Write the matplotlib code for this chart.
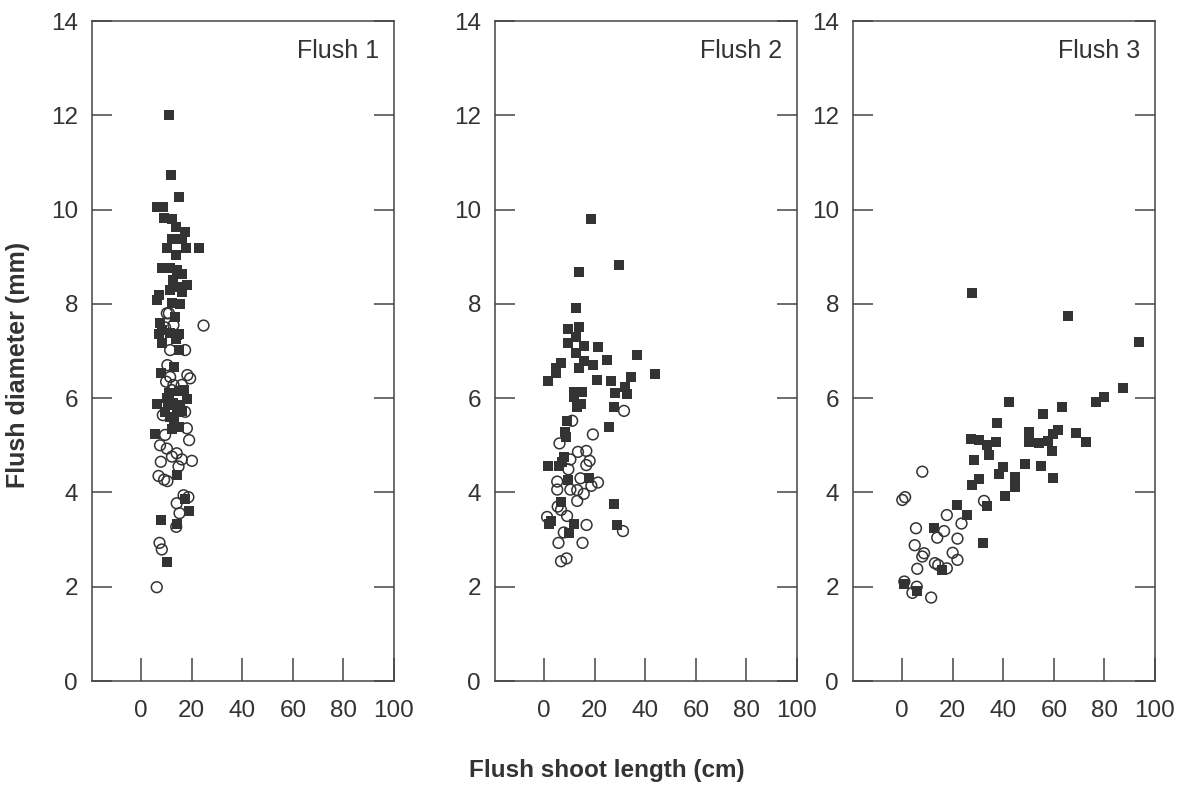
import matplotlib.pyplot as plt

plt.rcParams["font.family"] = ["Liberation Sans", "DejaVu Sans"]
plt.rcParams["font.size"] = 17.5
plt.rcParams["text.color"] = "#333333"
plt.rcParams["axes.edgecolor"] = "#444444"

# flush 1
f1_sq_x = [11.1, 11.9, 15, 6.2, 8.6, 9.1, 12.4, 13.9, 17.2, 12.2, 16.1, 10.4, 17.8, 23, 13.9,
           8.2, 11.5, 14.4, 16.1, 12.8, 18.1, 14.5, 11.5, 16.1, 6.9, 6.2, 12.2, 15.2, 7.5, 13.5,
           8.2, 11.5, 14.8, 6.9, 14.1, 8.2, 13.9, 14.8, 13.1, 7.8, 14.8, 16.8, 10.2, 6.2, 10.8,
           15.4, 18.3, 14.1, 11.5, 16.1, 12.2, 14.8, 5.5, 14.1, 17.4, 19, 7.8, 14.1, 10.2,
           11, 12.5, 9.5, 13]
f1_sq_y = [12.0, 10.73, 10.26, 10.05, 10.05, 9.83, 9.79, 9.64, 9.52, 9.37, 9.37, 9.19, 9.19, 9.19, 9.03,
           8.77, 8.77, 8.72, 8.63, 8.5, 8.4, 8.36, 8.29, 8.26, 8.19, 8.08, 8.02, 8.0, 7.6, 7.73,
           7.44, 7.38, 7.37, 7.37, 7.34, 7.18, 7.25, 7.02, 6.67, 6.53, 6.16, 6.17, 6.0, 5.87, 5.86,
           5.86, 5.98, 5.71, 5.6, 5.73, 5.34, 5.39, 5.25, 4.37, 3.87, 3.61, 3.41, 3.34, 2.53,
           6.1, 5.9, 5.7, 5.5]
f1_op_x = [10.2, 11, 24.7, 11.5, 17.4, 10.4, 11.5, 18.3, 19.4, 9.9, 12.8, 16.1, 12.2, 8.6, 17.4,
           18.1, 9.5, 19, 7.5, 10.2, 14.1, 12.2, 16.1, 20.1, 7.8, 14.8, 6.9, 9.1, 10.4, 16.8,
           18.7, 14.1, 15.2, 13.9, 7.3, 8.2, 6.2, 12.8, 9.5]
f1_op_y = [7.8, 7.8, 7.54, 7.02, 7.02, 6.7, 6.45, 6.49, 6.42, 6.35, 6.28, 6.28, 6.17, 5.64, 5.71,
           5.36, 5.22, 5.11, 5.0, 4.93, 4.83, 4.76, 4.7, 4.67, 4.65, 4.55, 4.35, 4.27, 4.24, 3.94,
           3.9, 3.77, 3.56, 3.27, 2.93, 2.79, 1.99, 7.55, 7.5]

# flush 2
f2_sq_x = [18.7, 29.6, 13.8, 12.8, 9.6, 13.8, 12.8, 9.6, 15.7, 21.5, 12.8, 36.7, 15.7, 24.7, 6.7,
           4.8, 4.8, 13.8, 19.2, 1.7, 20.8, 26.6, 34.2, 43.8, 31.9, 27.9, 32.9, 27.7, 25.8, 27.7,
           28.8, 12, 15, 12, 13.1, 14.7, 9.1, 8.3, 8.7, 7.8, 1.7, 6.1, 7, 9.6, 17.6,
           6.7, 2.8, 2.1, 12, 10]
f2_sq_y = [9.79, 8.82, 8.67, 7.92, 7.46, 7.5, 7.29, 7.18, 7.11, 7.08, 6.95, 6.91, 6.79, 6.81, 6.74,
           6.63, 6.54, 6.65, 6.7, 6.36, 6.39, 6.37, 6.45, 6.52, 6.24, 6.1, 6.08, 5.82, 5.39, 3.75,
           3.31, 6.14, 6.14, 6.03, 5.82, 5.87, 5.52, 5.29, 5.18, 4.76, 4.57, 4.57, 4.65, 4.26, 4.3,
           3.8, 3.4, 3.33, 3.32, 3.15]
f2_op_x = [31.6, 31.2, 11.1, 19.3, 6.1, 13.4, 16.7, 10.4, 18, 16.7, 9.6, 5.2, 14.4, 21.3, 18.7,
           5.2, 10.4, 13.1, 15.7, 13.1, 5.4, 6.7, 9.1, 1.2, 16.8, 7.8, 5.7, 15.2, 6.7, 8.9]
f2_op_y = [5.73, 3.18, 5.52, 5.23, 5.04, 4.86, 4.88, 4.7, 4.67, 4.58, 4.49, 4.23, 4.3, 4.21, 4.14,
           4.06, 4.06, 4.05, 3.97, 3.82, 3.7, 3.63, 3.5, 3.48, 3.31, 3.15, 2.93, 2.93, 2.54, 2.6]

# flush 3
f3_sq_x = [27.5, 42.4, 37.5, 65.5, 93.6, 87.5, 76.6, 80, 63.2, 55.7, 50.1, 50.1, 54, 57.6, 59.6,
           61.5, 59.4, 68.7, 72.6, 48.6, 55, 39.8, 59.7, 27.2, 30.6, 33.5, 37.2, 34.5, 28.6, 38.5,
           44.5, 44.5, 30.6, 27.7, 40.6, 33.5, 21.6, 25.8, 12.6, 31.9, 15.7, 0.9, 5.8]
f3_sq_y = [8.22, 5.91, 5.48, 7.75, 7.19, 6.21, 5.92, 6.02, 5.82, 5.66, 5.28, 5.06, 5.04, 5.1, 5.24,
           5.32, 4.88, 5.27, 5.08, 4.6, 4.57, 4.54, 4.3, 5.13, 5.11, 5.0, 5.08, 4.79, 4.69, 4.39,
           4.33, 4.12, 4.28, 4.16, 3.92, 3.71, 3.73, 3.52, 3.24, 2.92, 2.35, 2.05, 1.91]
f3_op_x = [8, 1.2, 0.1, 32.4, 17.7, 23.5, 5.5, 16.6, 13.9, 21.9, 5, 8.7, 8, 20, 21.9,
           13, 14.3, 17.7, 6, 0.9, 5.8, 4.1, 11.5]
f3_op_y = [4.44, 3.9, 3.84, 3.82, 3.52, 3.34, 3.24, 3.18, 3.04, 3.02, 2.88, 2.71, 2.64, 2.72, 2.57,
           2.5, 2.46, 2.39, 2.38, 2.11, 2.0, 1.87, 1.77]

titles = ["Flush 1", "Flush 2", "Flush 3"]
panels = [(f1_sq_x, f1_sq_y, f1_op_x, f1_op_y),
          (f2_sq_x, f2_sq_y, f2_op_x, f2_op_y),
          (f3_sq_x, f3_sq_y, f3_op_x, f3_op_y)]
lefts = [92, 495, 853]

fig = plt.figure(figsize=(11.84, 8), dpi=100)
W, H = 1184, 800
for left, title, (sx, sy, ox, oy) in zip(lefts, titles, panels):
  ax = fig.add_axes([left / W, 1 - 681 / H, 302 / W, 660 / H])
  ax.scatter(sx, sy, marker='s', s=60, c='#333333', linewidths=0, zorder=3)
  ax.scatter(ox, oy, marker='o', s=60, facecolors='none', edgecolors='#333333',
             linewidths=1.1, zorder=4)
  ax.set_xlim(-19.4, 100)
  ax.set_ylim(0, 14)
  ax.set_xticks(range(0, 101, 20))
  ax.set_yticks(range(0, 15, 2))
  ax.tick_params(axis='x', direction='in', length=16.5, width=1.1, pad=14, colors='#444444',
                 labelcolor='#333333')
  ax.tick_params(axis='y', direction='in', length=14.5, width=1.1, pad=10, right=True,
                 colors='#444444', labelcolor='#333333')
  for sp in ax.spines.values():
    sp.set_linewidth(1.1)
  ax.text(0.95, 0.955, title, transform=ax.transAxes, ha='right', va='center', fontsize=18)

fig.text(18 / W, 1 - 365 / H, "Flush diameter (mm)", rotation=90, ha='center', va='center',
         fontsize=18, fontweight='bold', color='#333333')
fig.text(607 / W, 1 - 770 / H, "Flush shoot length (cm)", ha='center', va='center',
         fontsize=17.5, fontweight='bold', color='#333333')

fig.savefig("out.png", dpi=100, facecolor='white')
